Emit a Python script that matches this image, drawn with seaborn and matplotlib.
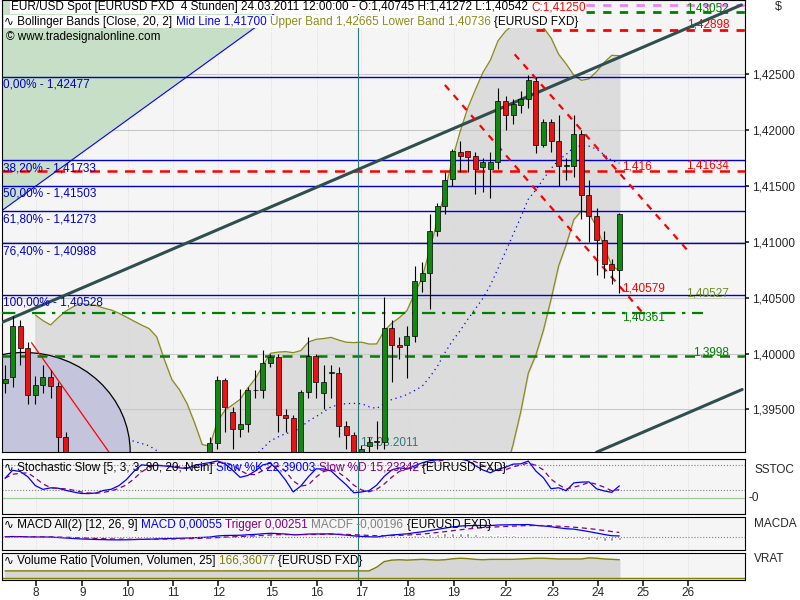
import numpy as np
import pandas as pd
import matplotlib
matplotlib.use("Agg")
import matplotlib.pyplot as plt
from matplotlib.patches import Polygon, Ellipse, Rectangle
import seaborn as sns

sns.set_theme(style="white")
plt.rcParams['font.family'] = ['Liberation Sans', 'DejaVu Sans']

# ---- candle data (4h EUR/USD) ----
opens = [1.3974, 1.3979, 1.4025, 1.4005, 1.3963, 1.3972, 1.3979, 1.3971, 1.3925,
         1.3905, 1.3890, 1.3875, 1.3880, 1.3868, 1.3872, 1.3860, 1.3866, 1.3875, 1.3880,
         1.3885, 1.3878, 1.3890, 1.3895, 1.3888, 1.3893, 1.3900, 1.3905, 1.3908,
         1.3920, 1.3976, 1.3948, 1.3933, 1.3937, 1.3967, 1.3967, 1.3992, 1.3997, 1.3945,
         1.3942, 1.3911, 1.3966, 1.3998, 1.3965, 1.3983, 1.3983, 1.3935, 1.3927, 1.3911,
         1.3917, 1.3921, 1.3921, 1.4023, 1.4008, 1.4008, 1.4016, 1.4065, 1.4072, 1.4110,
         1.4132, 1.4156, 1.4180, 1.4181, 1.4177, 1.4167, 1.4165, 1.4171, 1.4226, 1.4213,
         1.4222, 1.4228, 1.4244, 1.4187, 1.4207, 1.4190, 1.4168, 1.4168, 1.4196, 1.4142,
         1.4123, 1.4102, 1.4080, 1.4075]
closes = [1.3977, 1.4025, 1.4005, 1.3963, 1.3972, 1.3979, 1.3971, 1.3925, 1.3905,
          1.3890, 1.3875, 1.3880, 1.3868, 1.3872, 1.3860, 1.3866, 1.3875, 1.3880, 1.3885,
          1.3878, 1.3890, 1.3895, 1.3888, 1.3893, 1.3900, 1.3905, 1.3908, 1.3920,
          1.3976, 1.3952, 1.3933, 1.3937, 1.3967, 1.3967, 1.3992, 1.3997, 1.3945, 1.3942,
          1.3911, 1.3966, 1.3998, 1.3975, 1.3975, 1.3983, 1.3935, 1.3927, 1.3911, 1.3915,
          1.3921, 1.3921, 1.4023, 1.4008, 1.4006, 1.4016, 1.4065, 1.4072, 1.4110, 1.4132,
          1.4155, 1.4181, 1.4177, 1.4176, 1.4165, 1.4171, 1.4171, 1.4226, 1.4213, 1.4223,
          1.4228, 1.4245, 1.4187, 1.4207, 1.4190, 1.4168, 1.4168, 1.4196, 1.4142, 1.4123,
          1.4102, 1.4080, 1.4075, 1.4125]
highs = [1.3990, 1.4034, 1.4030, 1.4010, 1.3980, 1.3990, 1.3985, 1.3975, 1.3930,
         1.3910, 1.3895, 1.3890, 1.3885, 1.3880, 1.3878, 1.3872, 1.3880, 1.3886, 1.3890,
         1.3888, 1.3895, 1.3900, 1.3898, 1.3900, 1.3906, 1.3910, 1.3912, 1.3925,
         1.3980, 1.3978, 1.3952, 1.3968, 1.3970, 1.3985, 1.4003, 1.4000, 1.4000, 1.3950,
         1.3945, 1.3967, 1.4015, 1.4000, 1.3990, 1.3990, 1.3988, 1.3940, 1.3930, 1.3918,
         1.3925, 1.3940, 1.4051, 1.4030, 1.4015, 1.4025, 1.4078, 1.4082, 1.4125, 1.4135,
         1.4162, 1.4183, 1.4190, 1.4180, 1.4180, 1.4175, 1.4180, 1.4238, 1.4230, 1.4228,
         1.4235, 1.4249, 1.4247, 1.4210, 1.4210, 1.4213, 1.4175, 1.4213, 1.4200, 1.4155,
         1.4130, 1.4110, 1.4085, 1.4126]
lows = [1.3965, 1.3970, 1.3990, 1.3955, 1.3955, 1.3965, 1.3960, 1.3905, 1.3890,
        1.3880, 1.3865, 1.3866, 1.3858, 1.3860, 1.3850, 1.3855, 1.3862, 1.3870, 1.3875,
        1.3870, 1.3878, 1.3884, 1.3880, 1.3884, 1.3890, 1.3896, 1.3900, 1.3905,
        1.3915, 1.3930, 1.3915, 1.3925, 1.3930, 1.3960, 1.3960, 1.3988, 1.3930, 1.3930,
        1.3905, 1.3908, 1.3960, 1.3960, 1.3950, 1.3960, 1.3925, 1.3915, 1.3900, 1.3905,
        1.3910, 1.3915, 1.3915, 1.3975, 1.3995, 1.3978, 1.4010, 1.4055, 1.4040, 1.4105,
        1.4125, 1.4150, 1.4162, 1.4162, 1.4143, 1.4145, 1.4139, 1.4165, 1.4200, 1.4205,
        1.4215, 1.4220, 1.4179, 1.4185, 1.4180, 1.4150, 1.4155, 1.4158, 1.4120, 1.4100,
        1.4070, 1.4068, 1.4062, 1.4054]

vrat = [100]*46 + [100, 100, 100, 120, 150, 158, 160, 158, 160, 162, 160, 158, 160,
        165, 168, 166, 162, 160, 162, 162, 162, 162, 164, 166, 168, 168, 166, 164,
        164, 164, 164, 170, 168, 164, 162, 160]

day_labels = ["8", "9", "10", "11", "12", "15", "16", "17", "18", "19", "22", "23", "24", "25", "26"]
day_pos = [4.1, 10.2, 16.2, 22.2, 28.1, 35.1, 41.1, 47.0, 53.2, 59.2, 66.1, 72.2, 78.2, 84.1, 90.1]

fib_levels = [1.42477, 1.41733, 1.41503, 1.41273, 1.40988, 1.40528]
fib_labels = ["0,00% - 1,42477", "38,20% - 1,41733", "50,00% - 1,41503",
              "61,80% - 1,41273", "76,40% - 1,40988", "100,00% - 1,40528"]

price_ticks = [1.395, 1.400, 1.405, 1.410, 1.415, 1.420, 1.425]

df = pd.DataFrame(dict(o=opens, c=closes, h=highs, l=lows))
n = len(df)
idx = np.arange(n)
XMIN, XMAX = -0.4, 97.6
YMIN, YMAX = 1.3912, 1.43163
FS = 8.5

fig = plt.figure(figsize=(8, 6), dpi=100)
fig.patch.set_facecolor("white")
ax = fig.add_axes([0.0025, 0.2467, 0.929, 0.7533])
ax.set_facecolor("#f5f5f5")
ax.set_xlim(XMIN, XMAX)
ax.set_ylim(YMIN, YMAX)


def chain(a, x, y, parts, box=False):
    for s, c in parts:
        kw = dict(bbox=dict(facecolor="white", edgecolor="none", pad=0.3)) if box else {}
        t = a.text(x, y, s, color=c, fontsize=FS, va="top", ha="left",
                   transform=a.transAxes, zorder=8, **kw)
        fig.canvas.draw()
        x = t.get_window_extent().transformed(a.transAxes.inverted()).x1


mid = df.c.rolling(20, min_periods=5).mean()
sd = df.c.rolling(20, min_periods=5).std(ddof=0)
up, lo = mid + 2 * sd, mid - 2 * sd
ax.fill_between(idx, lo, up, color="#dcdcdc", zorder=1)
ax.plot(idx, up, color="#8b8b1a", lw=0.9, zorder=2)
ax.plot(idx, lo, color="#8b8b1a", lw=0.9, zorder=2)
ax.plot(idx, mid, color="blue", lw=0.9, ls=(0, (1, 3)), zorder=2)

for t in price_ticks:
    ax.axhline(t, color="#c8c8c8", lw=0.8, zorder=1)
for p in day_pos:
    ax.axvline(p, color="#d8d8d8", lw=0.6, ls=":", zorder=1)

ax.add_patch(Polygon([[XMIN, YMAX], [38, YMAX], [XMIN, 1.4128]], closed=True,
                     facecolor="#c6dfc6", edgecolor="blue", lw=0.8, zorder=2))
ax.add_patch(Ellipse((2.5, 1.3912), 28, 0.0178, facecolor="#c4c4dc", edgecolor="black",
                     lw=0.9, zorder=2))
ax.plot([3.5, 13.8], [1.40097, 1.3911], color="red", lw=0.9, zorder=3)

for lv, lb in zip(fib_levels, fib_labels):
    ax.axhline(lv, color="#0000cc", lw=1.0, zorder=3)
    ax.text(XMIN + 0.1, lv - 0.0002, lb, color="#0000cc", fontsize=FS, va="top",
            ha="left", zorder=6)

ax.axhline(1.41634, color="red", lw=1.8, ls=(0, (4, 3)), zorder=3)
ax.axhline(1.3998, color="green", lw=1.8, ls=(0, (4, 3)), zorder=3)
ax.plot([XMIN, 92], [1.40361, 1.40361], color="green", lw=1.6,
        ls=(0, (6, 3, 1.5, 3)), zorder=3)
ax.plot([70, XMAX], [1.42898, 1.42898], color="red", lw=2, ls=(0, (3, 3)), zorder=3)
ax.plot([70, XMAX], [1.43052, 1.43052], color="green", lw=2, ls=(0, (3, 3)), zorder=3)
ax.plot([70, XMAX], [1.4312, 1.4312], color="violet", lw=2, ls=(0, (3, 3)), zorder=3)
ax.axvline(46.5, color="#307878", lw=0.8, zorder=3)

ax.plot([XMIN, 97.1], [1.40280, 1.43119], color="#2f4f4f", lw=2.2, zorder=4)
ax.plot([78, 97.2], [1.39118, 1.39679], color="#2f4f4f", lw=2.2, zorder=4)
ax.plot([67.2, 90.2], [1.42677, 1.40908], color="red", lw=1.6, ls=(0, (3, 3)), zorder=4)
ax.plot([58, 84.1], [1.42403, 1.40363], color="red", lw=1.6, ls=(0, (3, 3)), zorder=4)

for i, r in df.iterrows():
    col = "#118811" if r.c >= r.o else "#ee1111"
    ax.vlines(i, r.l, r.h, color="black", lw=0.8, zorder=5)
    b0, b1 = min(r.o, r.c), max(r.o, r.c)
    ax.add_patch(Rectangle((i - 0.33, b0), 0.66, max(b1 - b0, 0.00004), facecolor=col,
                           edgecolor="black", lw=0.5, zorder=6))

ax.text(81.3, 1.4167, "1,416", color="red", fontsize=FS, va="center")
ax.text(81.3, 1.4058, "1,40579", color="red", fontsize=FS, va="center")
ax.text(81.3, 1.4032, "1,40361", color="green", fontsize=FS, va="center")
ax.text(95.5, 1.4168, "1,41634", color="red", fontsize=FS, va="center", ha="right")
ax.text(95.5, 1.4054, "1,40527", color="#6b8e23", fontsize=FS, va="center", ha="right")
ax.text(95.5, 1.4001, "1,3998", color="green", fontsize=FS, va="center", ha="right")
ax.text(95.5, 1.4309, "1,43052", color="green", fontsize=FS, va="center", ha="right")
ax.text(95.5, 1.4294, "1,42898", color="red", fontsize=FS, va="center", ha="right")
ax.text(46.8, 1.3915, "17.03.2011", color="#307878", fontsize=FS, va="bottom")

chain(ax, 0.012, 0.997, [("EUR/USD Spot [EURUSD FXD  4 Stunden] 24.03.2011 12:00:00 - O:1,40745 H:1,41272 L:1,40542 ", "black"),
                         ("C:1,41250", "red")], box=True)
chain(ax, 0.003, 0.965, [("\u223F Bollinger Bands [Close, 20, 2] ", "black"), ("Mid Line 1,41700 ", "blue"),
                         ("Upper Band 1,42665 Lower Band 1,40736 ", "#8b8b1a"), ("{EURUSD FXD}", "black")], box=True)
chain(ax, 0.005, 0.932, [("\u00a9 www.tradesignalonline.com", "black")])
ax.text(1.04, 0.997, "$", fontsize=9, va="top", transform=ax.transAxes)

fmt = lambda v: f"{v:.5f}".replace(".", ",")
ax.yaxis.tick_right()
ax.set_yticks(price_ticks)
ax.set_yticklabels([fmt(t) for t in price_ticks], fontsize=FS)
ax.tick_params(axis="y", length=3, pad=2)
ax.set_xticks([])
for s in ax.spines.values():
    s.set_color("black"); s.set_linewidth(0.8)


def panel(rect, label):
    a = fig.add_axes(rect)
    a.set_facecolor("#f5f5f5")
    a.set_xlim(XMIN, XMAX)
    a.set_xticks([])
    a.set_yticks([])
    for p in day_pos:
        a.axvline(p, color="#d8d8d8", lw=0.6, ls=":", zorder=1)
    a.axvline(46.5, color="#307878", lw=0.8, zorder=2)
    a.text(1.012, 0.8, label, transform=a.transAxes, fontsize=FS, va="center")
    for s in a.spines.values():
        s.set_color("black"); s.set_linewidth(0.8)
    return a


a1 = panel([0.0025, 0.143, 0.929, 0.092], "SSTOC")
ll = df.l.rolling(5, min_periods=1).min(); hh = df.h.rolling(5, min_periods=1).max()
k = 100 * (df.c - ll) / (hh - ll)
slowk = k.rolling(3, min_periods=1).mean(); slowd = slowk.rolling(3, min_periods=1).mean()
a1.set_ylim(-40, 95)
a1.axhline(0, color="#9ccc9c", lw=0.9)
a1.axhline(20, color="gray", lw=0.8, ls=":")
a1.axhline(80, color="gray", lw=0.8, ls=":")
a1.plot(idx, slowk, color="blue", lw=0.9)
a1.plot(idx, slowd, color="purple", lw=0.9, ls=(0, (4, 3)))
a1.text(1.005, 0.3, "-0", transform=a1.transAxes, fontsize=FS, va="center")
chain(a1, 0.003, 0.95, [("\u223F Stochastic Slow [5, 3, 3, 80, 20, Nein] ", "black"),
                        ("Slow %K 22,39003 ", "blue"), ("Slow %D 15,23342 ", "purple"),
                        ("{EURUSD FXD}", "black")])

a2 = panel([0.0025, 0.083, 0.929, 0.055], "MACDA")
ema12 = df.c.ewm(span=12).mean(); ema26 = df.c.ewm(span=26).mean()
macd = ema12 - ema26; trig = macd.ewm(span=9).mean(); hist = macd - trig
sns.barplot(x=idx, y=hist.values, ax=a2, color="#888888", width=0.4, native_scale=True)
a2.plot(idx, macd, color="blue", lw=0.9)
a2.plot(idx, trig, color="purple", lw=0.9, ls=(0, (4, 3)))
a2.axhline(0, color="gray", lw=0.8, ls=":")
m = max(abs(macd).max(), abs(trig).max())
a2.set_ylim(-m * 1.1, m * 1.6)
a2.set_xlim(XMIN, XMAX); a2.set_xticks([]); a2.set_yticks([]); a2.set_xlabel(""); a2.set_ylabel("")
chain(a2, 0.003, 0.95, [("\u223F MACD All(2) [12, 26, 9] ", "black"), ("MACD 0,00055 ", "blue"),
                        ("Trigger 0,00251 ", "purple"), ("MACDF -0,00196 ", "gray"),
                        ("{EURUSD FXD}", "black")])

a3 = panel([0.0025, 0.033, 0.929, 0.045], "VRAT")
a3.fill_between(idx, 60, vrat, color="#d6d6d6")
a3.plot(idx, vrat, color="#808000", lw=1.0)
a3.axhline(60, color="#808000", lw=1.0)
a3.set_ylim(50, 195)
chain(a3, 0.003, 0.95, [("\u223F Volume Ratio [Volumen, Volumen, 25] ", "black"),
                        ("166,36077 ", "#808000"), ("{EURUSD FXD}", "black")])
a3.set_xticks(day_pos)
a3.set_xticklabels(day_labels, fontsize=FS)
a3.tick_params(axis="x", length=4, pad=1, direction="out", bottom=True)

fig.savefig("out.png", dpi=100)
